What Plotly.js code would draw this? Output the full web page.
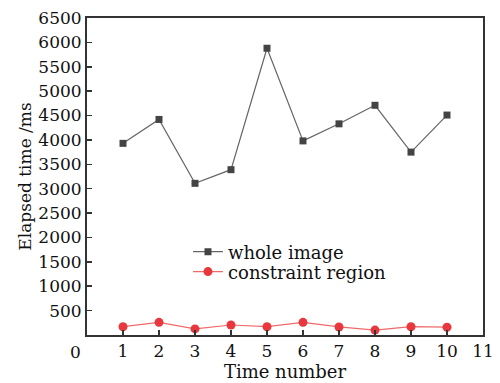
<!DOCTYPE html>
<html>
<head>
<meta charset="utf-8">
<script src="https://cdn.plot.ly/plotly-3.0.1.min.js"></script>
<style>html,body{margin:0;padding:0;background:#fff;}#chart{width:500px;height:383px;}</style>
</head>
<body>
<div id="chart"></div>
<script>
const timeNumber = [1, 2, 3, 4, 5, 6, 7, 8, 9, 10];
const wholeImage = [3930, 4420, 3110, 3390, 5880, 3980, 4330, 4710, 3750, 4510];
const constraintRegion = [170, 260, 125, 205, 170, 260, 165, 100, 170, 160];
const xTickVals = [1, 2, 3, 4, 5, 6, 7, 8, 9, 10, 11];
const yTickVals = [500, 1000, 1500, 2000, 2500, 3000, 3500, 4000, 4500, 5000, 5500, 6000, 6500];

const font = 'DejaVu Serif, Liberation Serif, serif';
const traces = [
  {x: timeNumber, y: wholeImage, name: 'whole image', mode: 'lines+markers', legend: 'legend',
   line: {color: '#666', width: 1.2}, marker: {symbol: 'square', size: 7, color: '#444'}},
  {x: timeNumber, y: constraintRegion, name: 'constraint region', mode: 'lines+markers', legend: 'legend2',
   line: {color: '#f06a6a', width: 1.2}, marker: {symbol: 'circle', size: 9, color: '#e8383d'}}
];
const axisCommon = {showline: true, linecolor: '#333', linewidth: 2, mirror: true,
  ticks: 'inside', ticklen: 5, tickcolor: '#333', tickwidth: 1.5, showgrid: false, zeroline: false,
  tickfont: {family: font, size: 17, color: '#111'}};
const legendFont = {family: font, size: 18, color: '#111'};
const layout = {
  width: 500, height: 383,
  margin: {l: 87, r: 17, t: 18, b: 48},
  paper_bgcolor: '#fff', plot_bgcolor: '#fff',
  showlegend: true,
  legend: {x: 0.255, y: 0.262, xanchor: 'left', yanchor: 'middle', bgcolor: 'rgba(0,0,0,0)', font: legendFont},
  legend2: {x: 0.255, y: 0.199, xanchor: 'left', yanchor: 'middle', bgcolor: 'rgba(0,0,0,0)', font: legendFont},
  xaxis: Object.assign({}, axisCommon, {range: [0, 11], tickvals: xTickVals,
    title: {text: 'Time number', font: {family: font, size: 18, color: '#111'}, standoff: 2}}),
  yaxis: Object.assign({}, axisCommon, {range: [0, 6500], tickvals: yTickVals,
    title: {text: 'Elapsed time /ms', font: {family: font, size: 17, color: '#111'}, standoff: 2}}),
  annotations: [{x: 0, y: 0, xref: 'x', yref: 'y', text: '0', showarrow: false,
    xshift: -12, yshift: -17, font: {family: font, size: 17, color: '#111'}}]
};
Plotly.newPlot('chart', traces, layout, {displayModeBar: false, staticPlot: true});
</script>
</body>
</html>
